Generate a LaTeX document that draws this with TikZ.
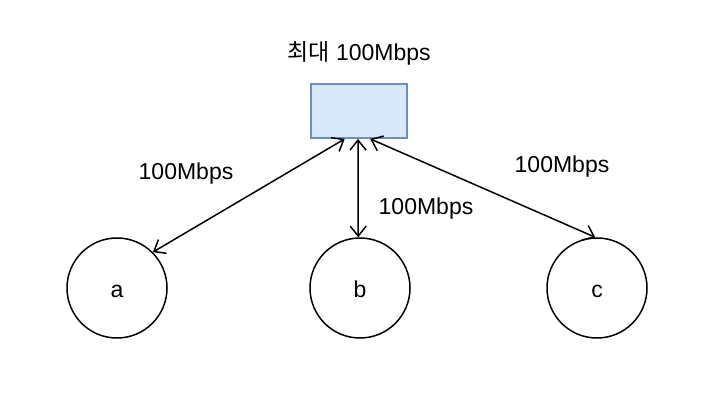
\documentclass[tikz,border=0pt]{standalone}
\usepackage{fontspec}
\setmainfont{Liberation Sans}
\newfontfamily\krfont{Noto Sans CJK KR}
\usetikzlibrary{arrows.meta, positioning, calc}
\definecolor{boxfill}{HTML}{DAE8FC}
\definecolor{boxdraw}{HTML}{6C8EBF}

\begin{document}
\begin{tikzpicture}[
    x=1pt, y=1pt,
    hub/.style={rectangle, draw=boxdraw, fill=boxfill, line width=1.8pt, minimum width=96pt, minimum height=54pt, inner sep=0pt},
    host/.style={circle, draw=black, line width=1.5pt, minimum size=100pt, inner sep=0pt, text height=20pt, text depth=0pt, font=\fontsize{23}{27}\selectfont},
    lbl/.style={inner sep=0pt, font=\fontsize{23}{27}\selectfont},
    link/.style={{Straight Barb[length=10pt, width=16pt]}-{Straight Barb[length=10pt, width=16pt]}, line width=1.5pt, draw=black}
]
\useasboundingbox (0,0) rectangle (724,402);

\node[hub] (switch) at (359,291) {};
\node[lbl] (cap) at (359,349) {{\krfont 최대} 100Mbps};

\node[host] (a) at (117,114) {a};
\node[host] (b) at (360,114) {b};
\node[host] (c) at (597,114) {c};

\coordinate (p1) at ($(switch.south west)!0.354!(switch.south east)$);
\coordinate (p2) at ($(switch.south west)!0.49!(switch.south east)$);
\coordinate (p3) at ($(switch.south west)!0.615!(switch.south east)$);

\draw[link] (p1) -- (a.45);
\draw[link] (p2) -- (b.92);
\draw[link] (p3) -- (c.92);

\node[lbl] (la) at (186,228) {100Mbps};
\node[lbl] (lb) at (426,193) {100Mbps};
\node[lbl] (lc) at (562,235) {100Mbps};

\end{tikzpicture}
\end{document}
